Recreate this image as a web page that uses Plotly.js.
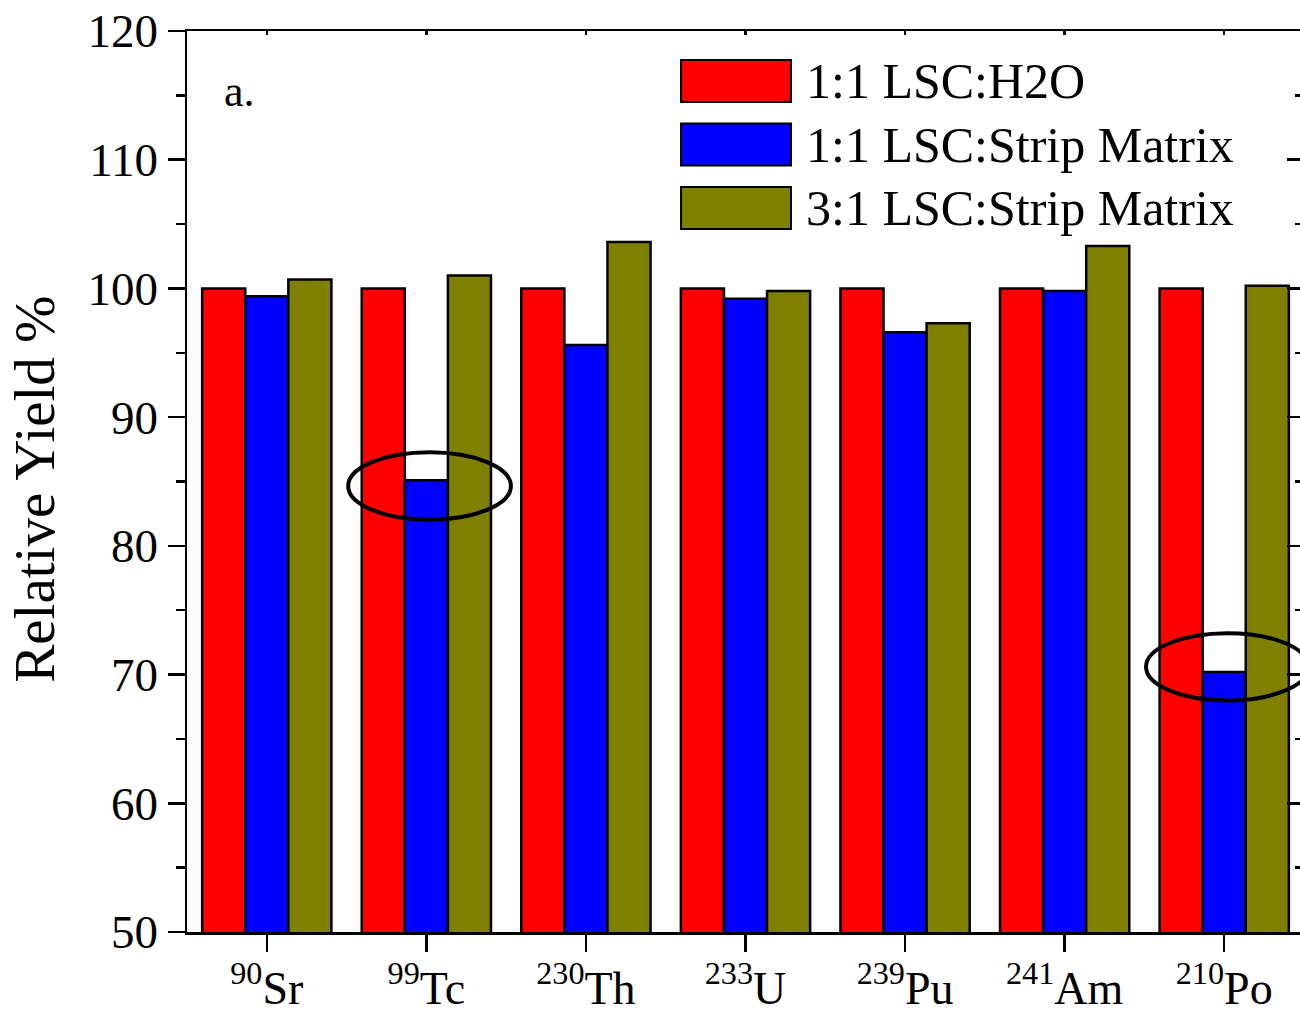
<!DOCTYPE html>
<html>
<head>
<meta charset="utf-8">
<script src="https://cdn.plot.ly/plotly-3.0.1.min.js"></script>
<style>
html,body{margin:0;padding:0;overflow:hidden;background:#fff;}
#chart{width:1304px;height:1016px;}
</style>
</head>
<body>
<div id="chart"></div>
<script>
// ---- data ----
const isotopes = ["<sup>90</sup>Sr","<sup>99</sup>Tc","<sup>230</sup>Th","<sup>233</sup>U","<sup>239</sup>Pu","<sup>241</sup>Am","<sup>210</sup>Po"];
const seriesNames = ["1:1 LSC:H2O","1:1 LSC:Strip Matrix","3:1 LSC:Strip Matrix"];
const lscH2O      = [100, 100, 100, 100, 100, 100, 100];
const lscStrip11  = [99.4, 85.1, 95.6, 99.2, 96.6, 99.8, 70.2];
const lscStrip31  = [100.7, 101.0, 103.6, 99.8, 97.3, 103.3, 100.2];
const seriesColors = ["#FF0000","#0000FF","#808000"];
const yTicks = [50,60,70,80,90,100,110,120];
// circled points (category index) and the ellipse centre value
const circledIdx = [1, 6];
const circledCenter = [84.65, 70.6];

const FONT = "Liberation Serif, Times New Roman, serif";
const seriesValues = [lscH2O, lscStrip11, lscStrip31];

const traces = seriesValues.map((vals, i) => ({
  type: "bar",
  x: isotopes,
  y: vals,
  name: seriesNames[i],
  marker: {color: seriesColors[i], line: {color: "#000", width: 2.5}},
  showlegend: false,
  hoverinfo: "y"
}));
// helper trace for mirrored top/right axes
traces.push({type:"scatter", x:[], y:[], xaxis:"x2", yaxis:"y2", showlegend:false, hoverinfo:"skip"});

const shapes = [];
const annotations = [];

circledIdx.forEach((ci, k) => {
  const c = circledCenter[k];
  shapes.push({type:"circle", xref:"x", yref:"y",
    x0: ci - 0.49, x1: ci + 0.53, y0: c - 2.62, y1: c + 2.62,
    line:{color:"#000", width:4}, fillcolor:"rgba(0,0,0,0)"});
});

// manual legend (paper coords)
const legTop = 0.9678, legStep = 0.0705, boxH = 0.0466;
seriesNames.forEach((n, i) => {
  const yt = legTop - i*legStep;
  shapes.push({type:"rect", xref:"paper", yref:"paper",
    x0:0.4423, x1:0.5407, y0: yt - boxH, y1: yt,
    fillcolor: seriesColors[i], line:{color:"#000", width:2}});
  annotations.push({xref:"paper", yref:"paper", x:0.5525, y: yt - boxH/2,
    xanchor:"left", yanchor:"middle", text:n, showarrow:false,
    font:{family:FONT, size:50, color:"#000"}});
});

annotations.push({xref:"paper", yref:"paper", x:0.0313, y:0.9323, xanchor:"left", yanchor:"middle",
  text:"a.", showarrow:false, font:{family:FONT, size:44, color:"#000"}});

annotations.push({xref:"paper", yref:"paper", x:-0.136, y:0.491, xanchor:"center", yanchor:"middle",
  text:"Relative Yield %", textangle:-90, showarrow:false, font:{family:FONT, size:57, color:"#000"}});

const layout = {
  width: 1304, height: 1016,
  margin: {l:187, r:0, t:31, b:84, pad:0},
  paper_bgcolor:"#fff", plot_bgcolor:"#fff",
  barmode:"group", bargap:0.19, bargroupgap:0,
  font:{family:FONT, color:"#000"},
  xaxis:{type:"category", range:[-0.5, 6.5], showline:true, linecolor:"#000", linewidth:2.5,
    ticks:"outside", ticklen:17, tickwidth:2.5, tickcolor:"#000", ticklabelstandoff:-3,
    tickfont:{family:FONT, size:46, color:"#000"}, showgrid:false, zeroline:false, fixedrange:true},
  yaxis:{range:[50,120], tickvals:yTicks, showline:true, linecolor:"#000", linewidth:2.5,
    ticks:"outside", ticklen:17, tickwidth:2.5, tickcolor:"#000",
    minor:{ticks:"outside", ticklen:9, tickwidth:2.5, tickcolor:"#000", dtick:5, showgrid:false},
    tickfont:{family:FONT, size:47, color:"#000"}, showgrid:false, zeroline:false, fixedrange:true},
  xaxis2:{overlaying:"x", side:"top", range:[-0.5,6.5], tickvals:[0,1,2,3,4,5,6], showticklabels:false,
    showline:true, linecolor:"#000", linewidth:2.5, ticks:"inside", ticklen:4, tickwidth:2.5, tickcolor:"#000",
    showgrid:false, zeroline:false, fixedrange:true},
  yaxis2:{overlaying:"y", side:"right", range:[50,120], tickvals:yTicks, showticklabels:false,
    showline:true, linecolor:"#000", linewidth:2.5, ticks:"inside", ticklen:17, tickwidth:2.5, tickcolor:"#000",
    minor:{ticks:"inside", ticklen:9, tickwidth:2.5, tickcolor:"#000", dtick:5, showgrid:false},
    showgrid:false, zeroline:false, fixedrange:true},
  shapes: shapes,
  annotations: annotations
};

Plotly.newPlot("chart", traces, layout, {displayModeBar:false, staticPlot:true});
</script>
</body>
</html>
